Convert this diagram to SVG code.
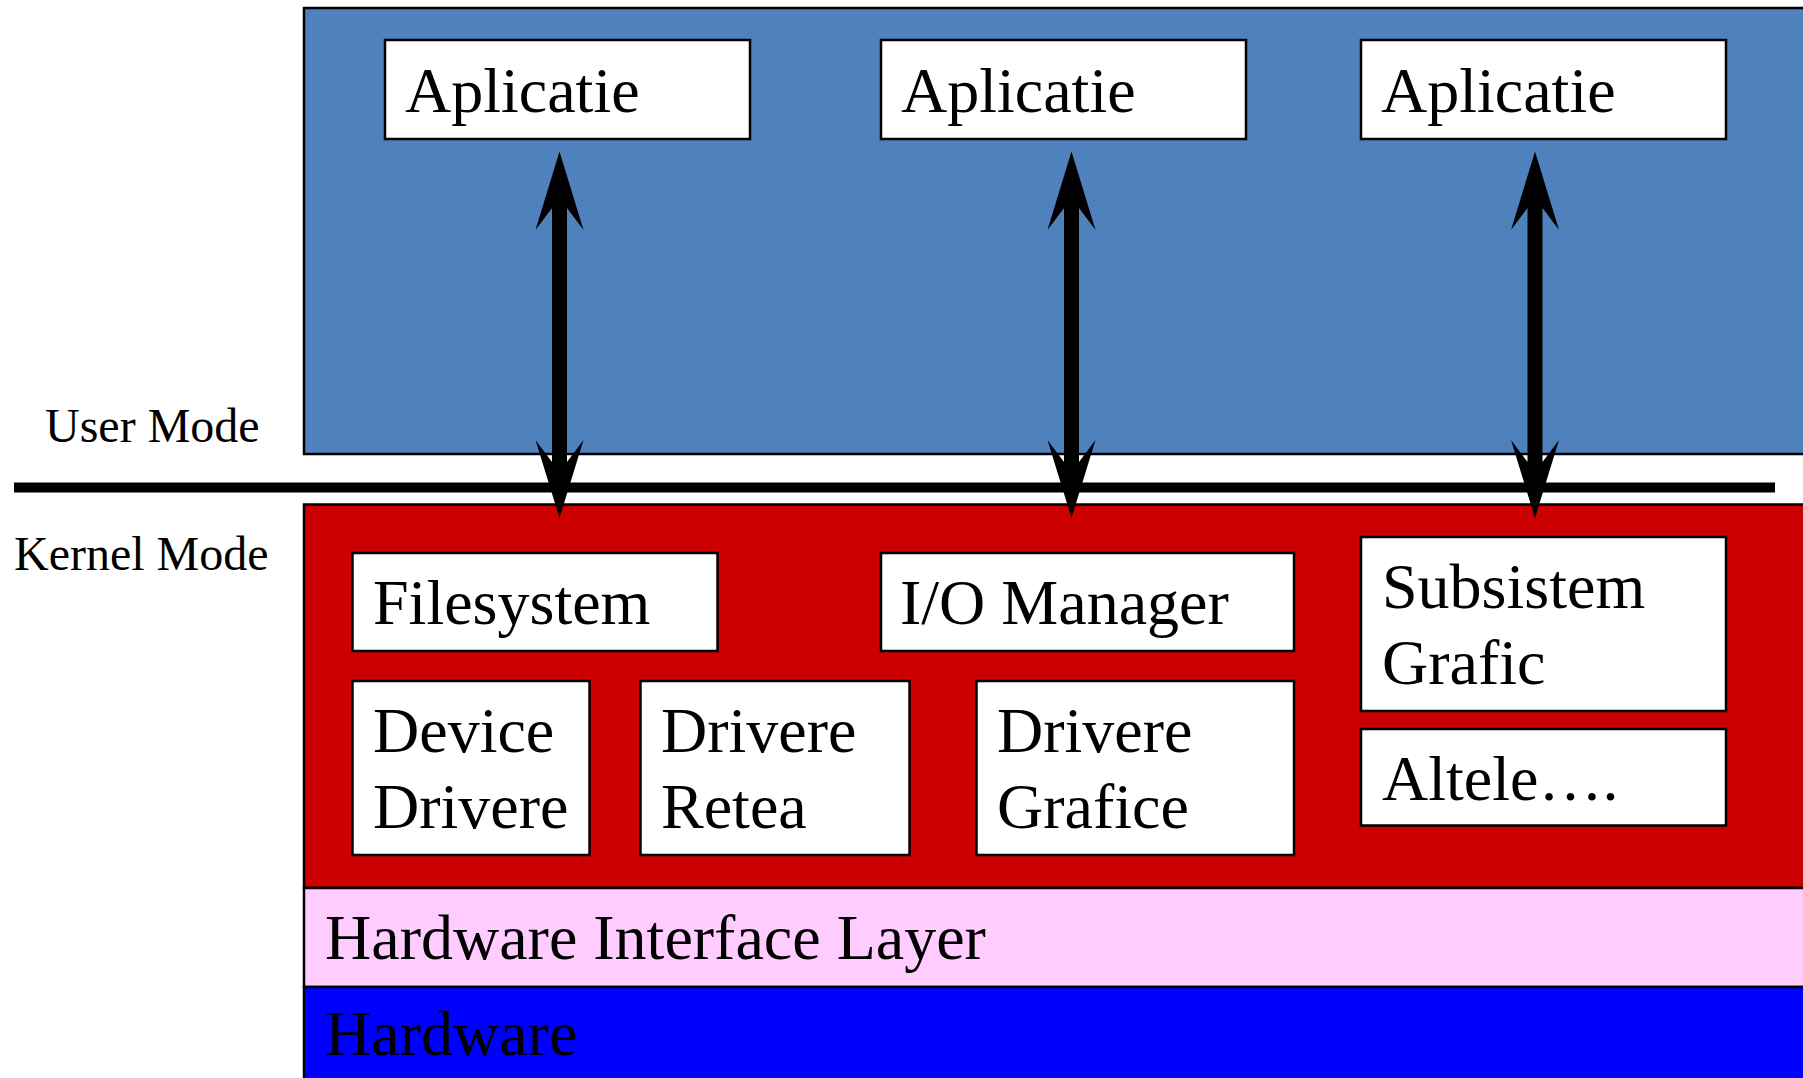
<svg xmlns="http://www.w3.org/2000/svg" xmlns:xlink="http://www.w3.org/1999/xlink" width="1803" height="1078" viewBox="0 0 1803 1078">
<style>
.box{fill:#fff;stroke:#000;stroke-width:2.5}
.layer{stroke:#000;stroke-width:2.5}
.t{font-family:"Liberation Serif","Times New Roman",serif;font-size:64px;fill:#000}
.m{font-family:"Liberation Serif","Times New Roman",serif;font-size:48px;fill:#000}
</style>
<defs>
<path id="darrow" d="M0,151.5 L24,230 L7.5,208 L7.5,462 L24,440 L0,518 L-24,440 L-7.5,462 L-7.5,208 L-24,230 Z" fill="#000"/>
</defs>
<rect width="1803" height="1078" fill="#fff"/>
<g id="user-layer">
<rect class="layer" x="304" y="8" width="1520" height="446" fill="#4F81BD"/>
</g>
<g id="kernel-layer">
<rect class="layer" x="304" y="504.5" width="1520" height="383.5" fill="#CC0000"/>
</g>
<g id="hil-layer">
<rect class="layer" x="304" y="888" width="1520" height="99" fill="#FFCCFF"/>
<text class="t" x="325" y="959">Hardware Interface Layer</text>
</g>
<g id="hardware-layer">
<rect class="layer" x="304" y="987" width="1520" height="120" fill="#0000FF"/>
<text class="t" x="325" y="1055">Hardware</text>
</g>
<g id="labels">
<text class="m" x="45" y="442">User Mode</text>
<text class="m" x="14" y="570">Kernel Mode</text>
</g>
<g id="app1"><rect class="box" x="385" y="40" width="365" height="99"/><text class="t" x="405" y="112">Aplicatie</text></g>
<g id="app2"><rect class="box" x="881" y="40" width="365" height="99"/><text class="t" x="901" y="112">Aplicatie</text></g>
<g id="app3"><rect class="box" x="1361" y="40" width="365" height="99"/><text class="t" x="1381" y="112">Aplicatie</text></g>
<g id="filesystem"><rect class="box" x="352.5" y="553" width="365" height="98"/><text class="t" x="373" y="623.5">Filesystem</text></g>
<g id="iomanager"><rect class="box" x="881" y="553" width="413" height="98"/><text class="t" x="900" y="623.5">I/O Manager</text></g>
<g id="devicedrivere"><rect class="box" x="352.5" y="681" width="237" height="174"/><text class="t" x="373" y="752">Device</text><text class="t" x="373" y="828">Drivere</text></g>
<g id="drivereretea"><rect class="box" x="640.5" y="681" width="269" height="174"/><text class="t" x="661" y="752">Drivere</text><text class="t" x="661" y="828">Retea</text></g>
<g id="driveregrafice"><rect class="box" x="976.5" y="681" width="317.5" height="174"/><text class="t" x="997" y="752">Drivere</text><text class="t" x="997" y="828">Grafice</text></g>
<g id="subsistem"><rect class="box" x="1361" y="537" width="365" height="174"/><text class="t" x="1382" y="608">Subsistem</text><text class="t" x="1382" y="684">Grafic</text></g>
<g id="altele"><rect class="box" x="1361" y="729" width="365" height="96.5"/><text class="t" x="1382" y="800">Altele….</text></g>
<g id="connectors">
<line x1="14" y1="487.5" x2="1775" y2="487.5" stroke="#000" stroke-width="10"/>
<use xlink:href="#darrow" x="559.5"/>
<use xlink:href="#darrow" x="1071.5"/>
<use xlink:href="#darrow" x="1535"/>
</g>
</svg>
